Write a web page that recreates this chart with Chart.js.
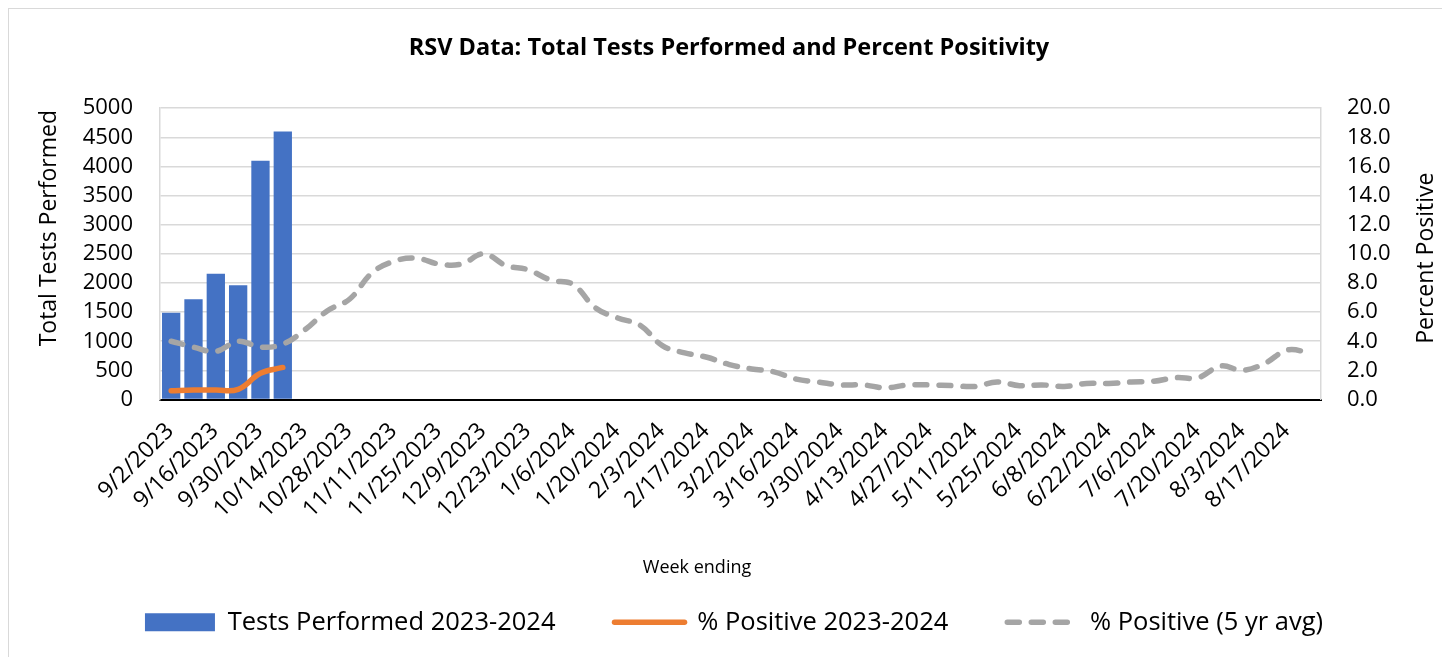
<!DOCTYPE html>
<html>
<head>
<meta charset="utf-8">
<title>RSV Data</title>
<script src="https://cdn.jsdelivr.net/npm/chart.js@4"></script>
<style>
  body { margin: 0; background: #fff; }
  #wrap { position: relative; width: 1442px; height: 657px; overflow: hidden; }
  #frame { position: absolute; left: 8px; top: 8px; width: 1440px; height: 660px; border: 1.5px solid #d9d9d9; pointer-events: none; }
</style>
</head>
<body>
<div id="wrap">
  <canvas id="my-chart"></canvas>
  <div id="frame"></div>
</div>
<script>
'use strict';

// ************************* DATA ***************************

let weeks = ['9/2/2023', '9/9/2023', '9/16/2023', '9/23/2023', '9/30/2023', '10/7/2023', '10/14/2023', '10/21/2023', '10/28/2023',
  '11/4/2023', '11/11/2023', '11/18/2023', '11/25/2023', '12/2/2023', '12/9/2023', '12/16/2023', '12/23/2023', '12/30/2023',
  '1/6/2024', '1/13/2024', '1/20/2024', '1/27/2024', '2/3/2024', '2/10/2024', '2/17/2024', '2/24/2024', '3/2/2024', '3/9/2024',
  '3/16/2024', '3/23/2024', '3/30/2024', '4/6/2024', '4/13/2024', '4/20/2024', '4/27/2024', '5/4/2024', '5/11/2024', '5/18/2024',
  '5/25/2024', '6/1/2024', '6/8/2024', '6/15/2024', '6/22/2024', '6/29/2024', '7/6/2024', '7/13/2024', '7/20/2024', '7/27/2024',
  '8/3/2024', '8/10/2024', '8/17/2024', '8/24/2024'];

// only the first weeks of the season are reported so far
let testsPerformed = [1490, 1720, 2160, 1960, 4100, 4600];
let pctPositive = [0.6, 0.65, 0.65, 0.7, 1.8, 2.2];

let pctFiveYearAvg = [4.0, 3.6, 3.3, 4.0, 3.6, 3.8, 4.8, 6.1, 6.9, 8.7, 9.5, 9.7, 9.3, 9.3, 10.0, 9.2, 8.9, 8.2, 7.9, 6.3,
  5.6, 5.1, 3.7, 3.2, 2.9, 2.4, 2.1, 1.9, 1.4, 1.2, 1.0, 1.0, 0.8, 1.0, 1.0, 0.95, 0.9, 1.2, 0.95, 1.0,
  0.9, 1.1, 1.1, 1.2, 1.25, 1.5, 1.5, 2.3, 2.0, 2.5, 3.4, 3.2];

let testsTicks = [0, 5000, 500];   // min, max, step
let pctTicks = [0, 20, 2];

// ************************* STYLE ***************************

let blue = '#4472C4';
let orange = '#ED7D31';
let gray = '#A5A5A5';
let gridGray = '#d9d9d9';
let lineW = 5.5;

Chart.defaults.font.family = "'Open Sans', sans-serif";
Chart.defaults.color = '#000';

// axis titles are placed by hand, like in the spreadsheet version
let axisTitles = {
  id: 'axisTitles',
  afterLayout(chart) {
    // title and legend sit a little right of the canvas centre
    chart.titleBlock.left += 8;
    chart.titleBlock.right += 8;
    chart.legend.left += 13;
    chart.legend.right += 13;
  },
  afterDraw(chart) {
    let ctx = chart.ctx;
    let area = chart.chartArea;
    ctx.save();
    ctx.fillStyle = '#000';
    ctx.textAlign = 'center';
    ctx.textBaseline = 'middle';

    ctx.font = "23px 'Open Sans'";
    ctx.save();
    ctx.translate(49, area.top + 120);
    ctx.rotate(-Math.PI / 2);
    ctx.fillText('Total Tests Performed', 0, 0);
    ctx.restore();

    ctx.save();
    ctx.translate(1426, area.top + 150);
    ctx.rotate(-Math.PI / 2);
    ctx.fillText('Percent Positive', 0, 0);
    ctx.restore();

    ctx.font = "18px 'Open Sans'";
    ctx.fillText('Week ending', 697, area.bottom + 168);
    ctx.restore();
  }
};

// ************************* CHART ***************************

let ctx = document.getElementById('my-chart').getContext('2d');

let myChartObj = {
  data: {
    labels: weeks,
    datasets: [{
      type: 'bar',
      label: 'Tests Performed 2023-2024',
      data: testsPerformed,
      backgroundColor: blue,
      borderWidth: 0,
      barPercentage: 0.82,
      categoryPercentage: 1.0,
      yAxisID: 'y',
      order: 3
    },
    {
      type: 'line',
      label: '% Positive 2023-2024',
      data: pctPositive,
      borderColor: orange,
      backgroundColor: orange,
      borderWidth: lineW,
      borderCapStyle: 'round',
      pointRadius: 0,
      tension: 0.4,
      yAxisID: 'y1',
      order: 1
    },
    {
      type: 'line',
      label: '% Positive (5 yr avg)',
      data: pctFiveYearAvg,
      borderColor: gray,
      backgroundColor: gray,
      borderWidth: lineW,
      borderDash: [12, 12],
      borderCapStyle: 'round',
      pointRadius: 0,
      tension: 0.4,
      yAxisID: 'y1',
      order: 2
    }]
  },
  options: {
    responsive: true,
    maintainAspectRatio: false,
    animation: false,
    events: [],
    layout: { padding: { bottom: 12 } },
    plugins: {
      title: {
        display: true,
        text: 'RSV Data: Total Tests Performed and Percent Positivity',
        font: { size: 23.5, weight: 'bold' },
        color: '#000',
        padding: { top: 34, bottom: 46 }
      },
      legend: {
        position: 'bottom',
        labels: {
          font: { size: 25.5 },
          color: '#000',
          usePointStyle: true,
          pointStyleWidth: 70,
          boxHeight: 18,
          padding: 59,
          sort: function (a, b) { return a.datasetIndex - b.datasetIndex; },
          generateLabels(chart) {
            let items = Chart.defaults.plugins.legend.labels.generateLabels(chart);
            items.forEach(function (item) {
              let ds = chart.data.datasets[item.datasetIndex];
              if (ds.type === 'bar') {
                item.pointStyle = 'rect';
                item.lineWidth = 0;
              } else {
                item.pointStyle = 'line';
                item.strokeStyle = ds.borderColor;
                item.lineWidth = ds.borderWidth;
                item.lineDash = ds.borderDash || [];
                item.lineCap = 'round';
              }
            });
            return items;
          }
        }
      },
      tooltip: { enabled: false }
    },
    scales: {
      x: {
        grid: { display: false },
        border: { color: '#000', width: 2 },
        ticks: {
          autoSkip: false,
          minRotation: 45,
          maxRotation: 45,
          padding: 10,
          labelOffset: -1,
          font: { size: 23 },
          color: '#000',
          callback: function (val, i) {
            return i % 2 === 0 ? weeks[i] : '';
          }
        },
        afterFit(scale) { scale.height = 151; }
      },
      y: {
        position: 'left',
        min: testsTicks[0],
        max: testsTicks[1],
        grid: { color: gridGray, lineWidth: 1.5, drawTicks: false },
        border: { color: gridGray, width: 1.5 },
        ticks: {
          stepSize: testsTicks[2],
          autoSkip: false,
          padding: 27,
          font: { size: 22 },
          color: '#000',
          callback: function (v) { return String(v); }
        },
        afterFit(scale) { scale.width = 160; }
      },
      y1: {
        position: 'right',
        min: pctTicks[0],
        max: pctTicks[1],
        grid: { display: false, drawTicks: false },
        border: { color: gridGray, width: 1.5 },
        ticks: {
          stepSize: pctTicks[2],
          autoSkip: false,
          padding: 26,
          font: { size: 22 },
          color: '#000',
          callback: function (v) { return v.toFixed(1); }
        },
        afterFit(scale) { scale.width = 121; }
      }
    }
  },
  plugins: [axisTitles]
};

new Chart(ctx, myChartObj);
</script>
</body>
</html>
